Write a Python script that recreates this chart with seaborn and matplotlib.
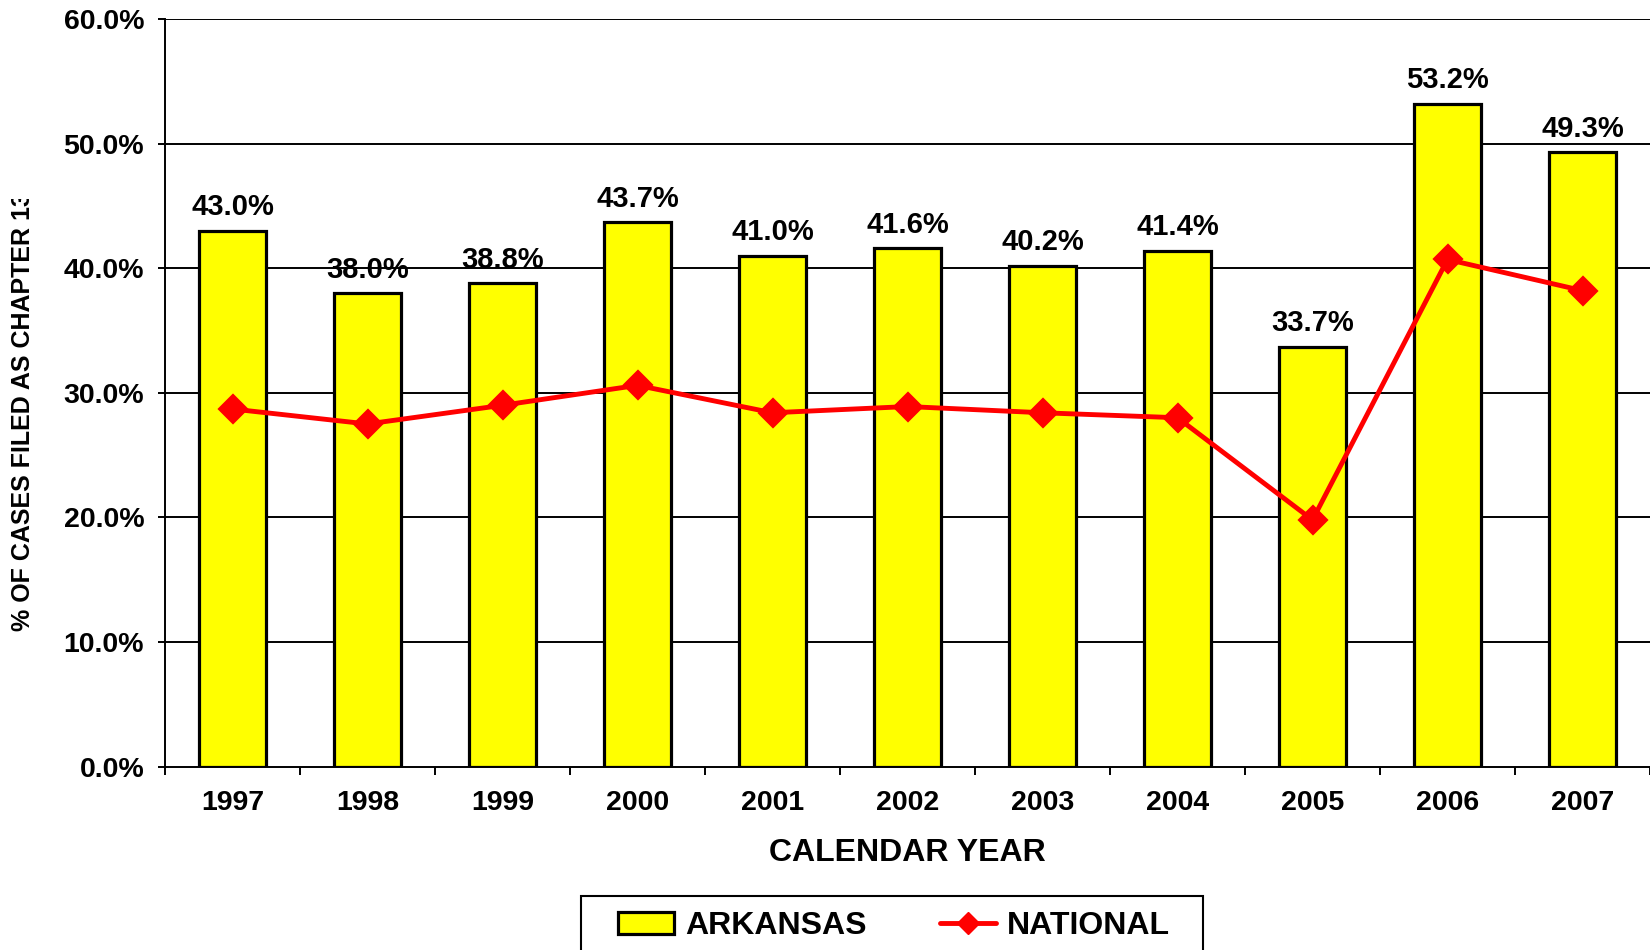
import matplotlib
matplotlib.use("Agg")
import matplotlib.pyplot as plt
from matplotlib.patches import Rectangle, Patch
from matplotlib.lines import Line2D
import seaborn as sns

# datos del grafico
years = ["1997", "1998", "1999", "2000", "2001", "2002", "2003", "2004", "2005", "2006", "2007"]
arkansas = [43.0, 38.0, 38.8, 43.7, 41.0, 41.6, 40.2, 41.4, 33.7, 53.2, 49.3]
national = [28.7, 27.5, 29.0, 30.6, 28.4, 28.9, 28.4, 28.0, 19.8, 40.7, 38.2]
y_ticks = [0, 10, 20, 30, 40, 50, 60]

sns.set_style("white")
plt.rcParams["font.family"] = ["Liberation Sans", "DejaVu Sans"]
plt.rcParams["font.weight"] = "bold"
plt.rcParams["text.color"] = "black"
plt.rcParams["axes.labelcolor"] = "black"
plt.rcParams["xtick.color"] = "black"
plt.rcParams["ytick.color"] = "black"

fig = plt.figure(figsize=(16.5, 9.5), dpi=100)
ax = fig.add_axes([0.100, 0.193, 0.900, 0.787])

# grid primero, detras de las barras
for v in y_ticks[1:]:
    ax.axhline(v, color="black", lw=1.4, zorder=0)

sns.barplot(x=years, y=arkansas, color="#FFFF00", edgecolor="black",
            linewidth=2.3, width=0.5, saturation=1, ax=ax, zorder=2)
sns.pointplot(x=years, y=national, color="#FF0000", marker="D", markersize=13,
              linewidth=3.5, errorbar=None, ax=ax, zorder=3)

# etiquetas de valor sobre las barras
for i, v in enumerate(arkansas):
    ax.annotate(f"{v:.1f}%", (i, v), xytext=(0, 17), textcoords="offset points",
                ha="center", va="center", fontsize=21, fontweight="bold")

ax.set_xlim(-0.5, 10.5)
ax.set_ylim(0, 60)
ax.set_yticks(y_ticks)
ax.set_yticklabels([f"{t:.1f}%" for t in y_ticks], fontsize=20.5, fontweight="bold")
ax.tick_params(axis="y", length=5, width=1.4, pad=10, left=True, color="black")
ax.set_xticks(range(len(years)))
ax.set_xticklabels(years, fontsize=20.5, fontweight="bold")
ax.tick_params(axis="x", which="major", length=0, pad=17)
ax.set_xticks([i - 0.5 for i in range(len(years) + 1)], minor=True)
ax.tick_params(axis="x", which="minor", length=6, width=1.4, bottom=True, color="black")

for s in ["top", "right"]:
    ax.spines[s].set_visible(False)
for s in ["left", "bottom"]:
    ax.spines[s].set_color("black")
    ax.spines[s].set_linewidth(1.4)

ax.set_xlabel("CALENDAR YEAR", fontsize=23, fontweight="bold", labelpad=16)
ax.set_ylabel("")

# etiqueta del eje Y, recortada como en el original
ylab = fig.text(0.014, 0.336, "% OF CASES FILED AS CHAPTER 13", rotation=90,
                ha="center", va="bottom", fontsize=18, fontweight="bold")
clip = Rectangle((0, 0), 0.05, 1 - 199 / 950, transform=fig.transFigure)
ylab.set_clip_path(clip)

# leyenda
fig.patches.append(Rectangle((0.352, -0.05), 0.377, 0.107, transform=fig.transFigure,
                             facecolor="white", edgecolor="black", lw=1.5))
handles = [Patch(facecolor="#FFFF00", edgecolor="black", lw=2.3),
           Line2D([], [], color="#FF0000", lw=3.5, marker="D", markersize=11)]
fig.legend(handles, ["ARKANSAS", "NATIONAL"], loc="center", bbox_to_anchor=(0.542, 0.025),
           ncol=2, frameon=False, handlelength=1.75, handletextpad=0.35, columnspacing=2.3,
           prop={"size": 23, "weight": "bold"})

fig.savefig("out.png", dpi=100)
